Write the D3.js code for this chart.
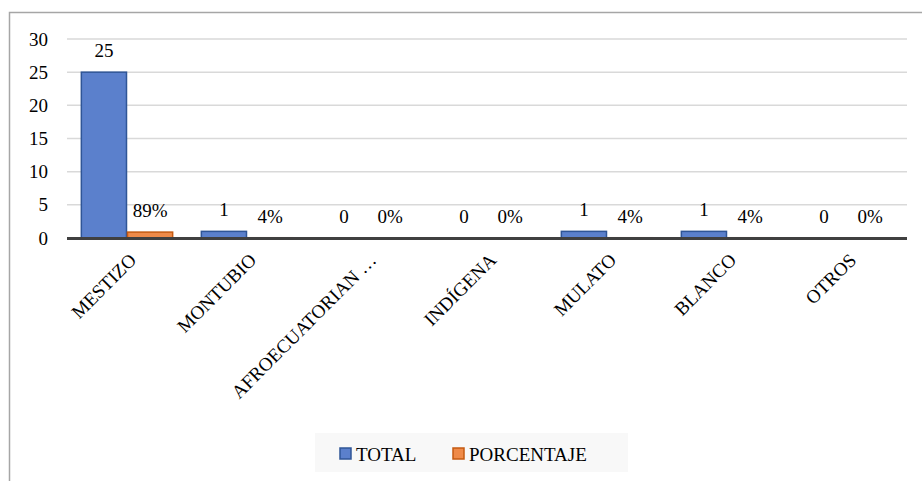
<!DOCTYPE html>
<html>
<head>
<meta charset="utf-8">
<script src="https://cdn.jsdelivr.net/npm/d3@7"></script>
<style>
  #etnia-fig text { font-family: 'Liberation Serif', 'Times New Roman', serif; }
</style>
</head>
<body style="margin:0;background:#fff">
<svg id="etnia-fig" width="922" height="481" style="display:block"></svg>
<script>
// Categories and series
const categories = ["MESTIZO", "MONTUBIO", "AFROECUATORIANO", "INDÍGENA", "MULATO", "BLANCO", "OTROS"];
const totalValues = [25, 1, 0, 0, 1, 1, 0];
const porcentajeValues = [0.89, 0.04, 0, 0, 0.04, 0.04, 0];
const porcentajeLabels = ["89%", "4%", "0%", "0%", "4%", "4%", "0%"];
const yTicks = [0, 5, 10, 15, 20, 25, 30];
const seriesNames = ["TOTAL", "PORCENTAJE"];

const FONT = "Liberation Serif";
const colors = {
  TOTAL: { fill: "#5b80cc", stroke: "#2f5597" },
  PORCENTAJE: { fill: "#ef8a48", stroke: "#c55a11" }
};

// Serif text helper
const serif = sel => sel.attr("font-family", FONT).style("font-family", `'${FONT}'`)
  .attr("font-size", 19).attr("fill", "#000");

const svg = d3.select("#etnia-fig");
const plotLeft = 67, plotRight = 907, plotTop = 39, plotBottom = 238;

// Frame (left and top edges visible)
svg.append("path")
  .attr("d", "M9.5,481 L9.5,12.5 L922,12.5")
  .attr("fill", "none").attr("stroke", "#a6a6a6").attr("stroke-width", 1.5);

const x = d3.scaleBand().domain(categories).range([plotLeft, plotRight]).paddingInner(0).paddingOuter(0);
const inner = d3.scaleBand().domain(seriesNames).range([0, x.bandwidth()]).paddingInner(0).paddingOuter(0.3);
const y = d3.scaleLinear().domain([0, 30]).range([plotBottom, plotTop]);

// Gridlines
svg.append("g").selectAll("line").data(yTicks.filter(d => d > 0)).join("line")
  .attr("x1", plotLeft).attr("x2", plotRight)
  .attr("y1", d => y(d)).attr("y2", d => y(d))
  .attr("stroke", "#d9d9d9").attr("stroke-width", 1.5);

// Y axis labels
const yAxis = d3.axisLeft(y).tickValues(yTicks).tickSize(0).tickPadding(0);
const gy = svg.append("g").attr("transform", "translate(48,0)").call(yAxis);
gy.attr("font-family", FONT).attr("font-size", 19);
gy.select(".domain").remove();
gy.selectAll("text").call(serif);

// Bars and value labels
const series = [
  { name: "TOTAL", values: totalValues, labels: totalValues.map(String) },
  { name: "PORCENTAJE", values: porcentajeValues, labels: porcentajeLabels }
];

series.forEach(s => {
  const g = svg.append("g");
  categories.forEach((c, i) => {
    const v = s.values[i];
    const bx = x(c) + inner(s.name);
    const bw = inner.bandwidth();
    if (v > 0) {
      g.append("rect")
        .attr("x", bx + 0.5).attr("y", y(v))
        .attr("width", bw - 1).attr("height", y(0) - y(v))
        .attr("fill", colors[s.name].fill)
        .attr("stroke", colors[s.name].stroke).attr("stroke-width", 1.5);
    }
    g.append("text")
      .attr("x", bx + bw / 2)
      .attr("y", y(v) - 15)
      .attr("text-anchor", "middle")
      .call(serif)
      .text(s.labels[i]);
  });
});

// X axis line
svg.append("line")
  .attr("x1", plotLeft).attr("x2", plotRight)
  .attr("y1", y(0) + 0.5).attr("y2", y(0) + 0.5)
  .attr("stroke", "#404040").attr("stroke-width", 3);

// Category labels, rotated
const displayName = d => d === "AFROECUATORIANO" ? "AFROECUATORIAN …" : d;
svg.append("g").selectAll("text").data(categories).join("text")
  .attr("transform", d => `translate(${x(d) + x.bandwidth() / 2 + 1},${y(0) + 14}) rotate(-45)`)
  .attr("text-anchor", "end")
  .attr("dy", "0.7em")
  .call(serif)
  .text(displayName);

// Legend
const lg = svg.append("g");
lg.append("rect").attr("x", 315).attr("y", 433).attr("width", 313).attr("height", 39).attr("fill", "#f8f8f8");
const legendItems = [
  { name: "TOTAL", sx: 340 },
  { name: "PORCENTAJE", sx: 453 }
];
legendItems.forEach(it => {
  lg.append("rect").attr("x", it.sx).attr("y", 448).attr("width", 11).attr("height", 11)
    .attr("fill", colors[it.name].fill).attr("stroke", colors[it.name].stroke).attr("stroke-width", 1.5);
  lg.append("text").attr("x", it.sx + 16).attr("y", 460.5)
    .call(serif).text(it.name);
});
</script>
</body>
</html>
